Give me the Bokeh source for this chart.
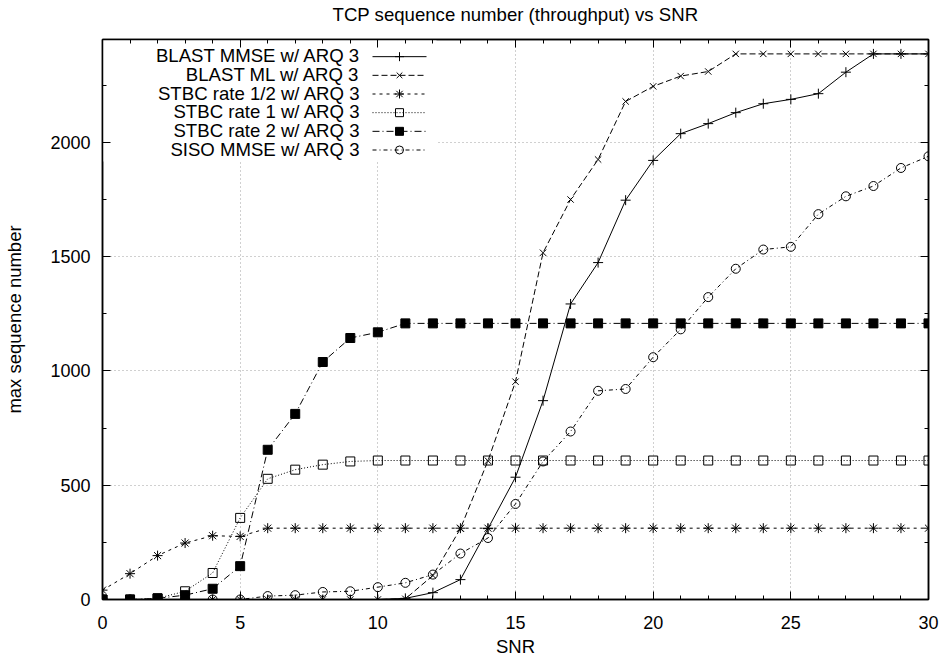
from bokeh.plotting import figure
from bokeh.models import (Range1d, LinearAxis, SingleIntervalTicker, Label,
                          BoxAnnotation, CustomLabelingPolicy)
from bokeh.embed import file_html
from bokeh.resources import INLINE

snr = [0, 1, 2, 3, 4, 5, 6, 7, 8, 9, 10, 11, 12, 13, 14, 15,
       16, 17, 18, 19, 20, 21, 22, 23, 24, 25, 26, 27, 28, 29, 30]

blast_mmse = [0, 0, 0, 0, 0, 0, 0, 0, 0, 0, 0, 5, 30, 87, 310, 535,
              870, 1293, 1474, 1747, 1921, 2038, 2082, 2130, 2169, 2188,
              2213, 2307, 2387, 2387, 2387]
blast_ml = [0, 0, 0, 0, 0, 0, 0, 0, 0, 0, 0, 3, 105, 310, 607, 953,
            1517, 1750, 1925, 2179, 2245, 2290, 2310, 2387, 2387, 2387,
            2387, 2387, 2387, 2387, 2387]
stbc_half = [41, 113, 192, 247, 279, 276, 312, 312, 312, 312, 312, 312,
             312, 312, 312, 312, 312, 312, 312, 312, 312, 312, 312, 312,
             312, 312, 312, 312, 312, 312, 312]
stbc_1 = [0, 0, 5, 36, 116, 357, 528, 568, 590, 604, 608, 608, 608, 608,
          608, 608, 608, 608, 608, 608, 608, 608, 608, 608, 608, 608, 608,
          608, 608, 608, 608]
stbc_2 = [0, 0, 5, 19, 47, 146, 655, 812, 1039, 1144, 1169, 1208, 1208,
          1208, 1208, 1208, 1208, 1208, 1208, 1208, 1208, 1208, 1208, 1208,
          1208, 1208, 1208, 1208, 1208, 1208, 1208]
siso_mmse = [0, 0, 0, 0, 0, 0, 15, 19, 33, 36, 54, 73, 109, 201, 269, 418,
             604, 735, 913, 921, 1060, 1182, 1323, 1447, 1531, 1543, 1686,
             1764, 1809, 1888, 1939]

title_text = "TCP sequence number (throughput) vs SNR"
labels = ["BLAST MMSE w/ ARQ 3", "BLAST ML w/ ARQ 3", "STBC rate 1/2 w/ ARQ 3",
          "STBC rate 1 w/ ARQ 3", "STBC rate 2 w/ ARQ 3", "SISO MMSE w/ ARQ 3"]
series = [blast_mmse, blast_ml, stbc_half, stbc_1, stbc_2, siso_mmse]

dashes = ["solid", "6 3", "3 4", "1 2", "7 3 1 3", "4 3 1 3"]
markers = ["cross", "x", "asterisk", "square", "square", "circle"]
fills = [None, None, None, None, "black", None]
msizes = [10, 9, 10, 9, 9, 9]

FONT = "Liberation Sans"

# frame geometry (pixels)
W, H = 942, 659
BL, BR, BT, BB = 102, 14, 39, 59
FW, FH = W - BL - BR, H - BT - BB

p = figure(width=W, height=H, output_backend="svg", toolbar_location=None,
           x_range=Range1d(0, 30), y_range=Range1d(0, 2450),
           min_border_left=BL, min_border_right=BR, min_border_top=BT,
           min_border_bottom=BB)

# pixel ranges used for the key samples
p.extra_x_ranges = {"px": Range1d(0, FW)}
p.extra_y_ranges = {"py": Range1d(0, FH)}

p.outline_line_color = "black"
p.outline_line_width = 1.5
p.outline_line_alpha = 1.0

no_labels = CustomLabelingPolicy(code="""
for (const i of indices) { indices.unset(i) }
return indices
""")

top_ax = LinearAxis()
right_ax = LinearAxis()
p.add_layout(top_ax, "above")
p.add_layout(right_ax, "right")

for ax in p.xaxis:
    ax.ticker = SingleIntervalTicker(interval=5, num_minor_ticks=5)
for ax in p.yaxis:
    ax.ticker = SingleIntervalTicker(interval=500, num_minor_ticks=2)

for ax in list(p.xaxis) + list(p.yaxis):
    ax.axis_line_color = "black"
    ax.axis_line_width = 1.5
    ax.major_tick_in = 8
    ax.major_tick_out = 0
    ax.minor_tick_in = 4
    ax.minor_tick_out = 0
    ax.major_tick_line_color = "black"
    ax.minor_tick_line_color = "black"
    ax.major_label_text_font = FONT
    ax.major_label_text_font_size = "18px"
    ax.major_label_text_color = "black"
    ax.axis_label_text_font = FONT
    ax.axis_label_text_font_size = "18.5px"
    ax.axis_label_text_font_style = "normal"
    ax.axis_label_text_color = "black"

for ax in (top_ax, right_ax):
    ax.major_label_policy = no_labels
    ax.major_label_text_font_size = "1px"
    ax.major_label_standoff = 0

# the chart title sits above the top (mirror) axis
top_ax.axis_label = title_text
top_ax.axis_label_text_font_size = "18.6px"
top_ax.axis_label_standoff = 11

p.below[0].axis_label = "SNR"
p.below[0].major_label_standoff = 16
p.below[0].axis_label_standoff = 4
p.left[0].axis_label = "max sequence number"
p.left[0].major_label_standoff = 12
p.left[0].axis_label_standoff = 22

p.xgrid.grid_line_color = "#a0a0a0"
p.xgrid.grid_line_dash = "1 3"
p.ygrid.grid_line_color = "#a0a0a0"
p.ygrid.grid_line_dash = "1 3"

# white background behind the key
p.add_layout(BoxAnnotation(left=-10, right=334, bottom=438, top=1000,
                           left_units="screen", right_units="screen",
                           bottom_units="screen", top_units="screen",
                           fill_color="white", fill_alpha=1.0, line_alpha=0,
                           level="underlay"))

for name, ys, dash, mk, fc, ms in zip(labels, series, dashes, markers, fills, msizes):
    p.line(snr, ys, line_color="black", line_width=1, line_dash=dash)
    p.scatter(snr, ys, marker=mk, size=ms, line_color="black",
              line_width=1, fill_color=fc)

# key: text on the left, sample on the right (gnuplot style)
KEY_TEXT_X = 258
KEY_X0, KEY_X1 = 270, 324
KEY_Y0, KEY_DY = FH - 17.2, 18.7
for i, (name, dash, mk, fc, ms) in enumerate(zip(labels, dashes, markers, fills, msizes)):
    ky = KEY_Y0 - KEY_DY * i
    p.add_layout(Label(x=KEY_TEXT_X, y=ky, x_units="screen", y_units="screen",
                       text=name, text_align="right", text_baseline="middle",
                       text_font=FONT, text_font_size="18.6px", text_color="black"))
    p.line([KEY_X0, KEY_X1], [ky, ky], line_color="black", line_width=1,
           line_dash=dash, x_range_name="px", y_range_name="py")
    p.scatter([(KEY_X0 + KEY_X1) / 2], [ky], marker=mk, size=ms - 1,
              line_color="black", line_width=1, fill_color=fc,
              x_range_name="px", y_range_name="py")

open("out.html", "w").write(file_html(p, INLINE))
